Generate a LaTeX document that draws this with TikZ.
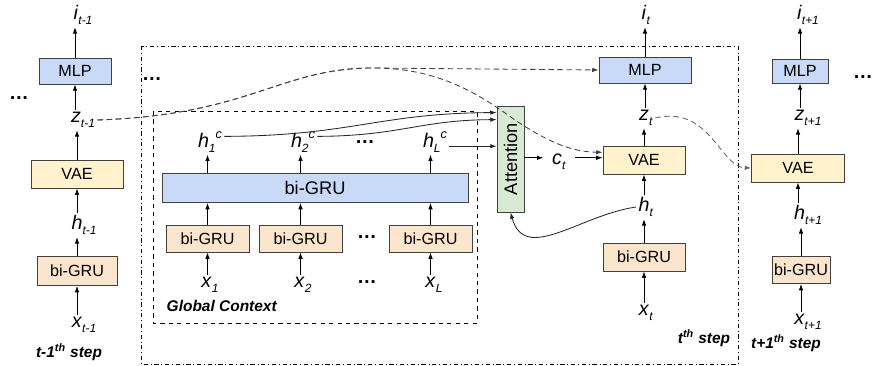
\documentclass[tikz,border=0pt]{standalone}
\usepackage{fontspec}
\setmainfont{Liberation Sans}
\usetikzlibrary{arrows.meta,positioning}

\definecolor{mlpblue}{HTML}{C9DAF8}
\definecolor{vaeyellow}{HTML}{FFF2CC}
\definecolor{gruorange}{HTML}{FCE5CD}
\definecolor{attgreen}{HTML}{D9EAD3}

\newcommand{\subtxt}[1]{{\fontsize{8.5}{9}\selectfont\textit{#1}}}
\newcommand{\lbl}[2]{\textit{#1}\raisebox{-3.5pt}{\subtxt{#2}}}
\newcommand{\lblc}[2]{\textit{#1}\raisebox{-3.5pt}{\subtxt{#2}}\raisebox{6pt}{{\fontsize{9}{10}\selectfont\textit{c}}}}
\newcommand{\steplbl}[1]{\textbf{\textit{#1}}}

\tikzset{
  blk/.style={draw=black!75, line width=0.6pt, inner sep=0pt, font=\fontsize{11.5}{13}\selectfont},
  mlpbox/.style={blk, fill=mlpblue},
  vaebox/.style={blk, fill=vaeyellow},
  grubox/.style={blk, fill=gruorange},
  attbox/.style={blk, fill=attgreen, font=\fontsize{13}{15}\selectfont},
  lab/.style={inner sep=1.5pt, font=\fontsize{14}{16}\selectfont},
  steptxt/.style={font=\fontsize{11}{13}\selectfont},
  ctx/.style={->, black!85, line width=0.6pt},
  skip/.style={->, black!75, line width=0.6pt, dash pattern=on 4pt off 2.5pt},
}

\begin{document}
\begin{tikzpicture}[x=0.025cm, y=-0.025cm, >={Latex[length=4.5pt,width=3.2pt]}, line width=0.6pt]
  \useasboundingbox (0,0) rectangle (875,366);

  % step t-1
  \node[lab] (iA) at (83,15) {\lbl{i}{t-1}};
  \node[mlpbox, minimum width=1.8cm, minimum height=0.65cm] (mlpA) at (75,71) {MLP};
  \node[lab] (zA) at (83,120) {\lbl{z}{t-1}};
  \node[vaebox, minimum width=2.3cm, minimum height=0.7cm] (vaeA) at (77,174) {VAE};
  \node[lab] (hA) at (84,225) {\lbl{h}{t-1}};
  \node[grubox, minimum width=2cm, minimum height=0.725cm] (gruA) at (77,271) {bi-GRU};
  \node[lab] (xA) at (84,325) {\lbl{x}{t-1}};
  \node[steptxt] (stepA) at (69,352) {\steplbl{t-1\textsuperscript{th} step}};
  \node[lab] (dotsA) at (19,98) {\textbf{\dots}};

  \draw[->] (xA.north -| gruA) -- (gruA.south);
  \draw[->] (gruA.north) -- (gruA.north |- hA.south);
  \draw[->] (hA.north -| vaeA) -- (vaeA.south);
  \draw[->] (vaeA.north) -- (vaeA.north |- zA.south);
  \draw[->] (zA.north -| mlpA) -- (mlpA.south);
  \draw[->] (mlpA.north) -- (mlpA.north |- iA.south);

  % step t
  \draw[dash dot, line width=0.5pt] (141,46) rectangle (738,364);
  \node[lab] (dotsB) at (152,79) {\textbf{\dots}};
  \node[steptxt] (stepB) at (704,338) {\steplbl{t\textsuperscript{th} step}};

  \node[lab] (iB) at (646,15) {\lbl{i}{t}};
  \node[mlpbox, minimum width=2.3cm, minimum height=0.65cm] (mlpB) at (645,70) {MLP};
  \node[lab] (zB) at (646,118) {\lbl{z}{t}};
  \node[vaebox, minimum width=2.05cm, minimum height=0.7cm] (vaeB) at (644,160) {VAE};
  \node[lab] (hB) at (646,207) {\lbl{h}{t}};
  \node[grubox, minimum width=2.05cm, minimum height=0.7cm] (gruB) at (644,257) {bi-GRU};
  \node[lab] (xB) at (646,313) {\lbl{x}{t}};

  \draw[->] (xB.north -| gruB) -- (gruB.south);
  \draw[->] (gruB.north) -- (gruB.north |- hB.south);
  \draw[->] (hB.north -| vaeB) -- (vaeB.south);
  \draw[->] (vaeB.north) -- (vaeB.north |- zB.south);
  \draw[->] (zB.north -| mlpB) -- (mlpB.south);
  \draw[->] (mlpB.north) -- (mlpB.north |- iB.south);

  % global context
  \draw[dashed, line width=0.5pt] (153,111) rectangle (477,323);
  \node[blk, fill=mlpblue, font=\fontsize{13}{15}\selectfont, minimum width=7.65cm, minimum height=0.725cm] (ctxGRU) at (315,188) {bi-GRU};
  \node[grubox, minimum width=2.075cm, minimum height=0.675cm] (g1) at (207.5,238.5) {bi-GRU};
  \node[grubox, minimum width=2.075cm, minimum height=0.675cm] (g2) at (300.5,238.5) {bi-GRU};
  \node[grubox, minimum width=2.075cm, minimum height=0.675cm] (gL) at (430.5,238.5) {bi-GRU};
  \node[lab] (x1) at (210,285) {\lbl{x}{1}};
  \node[lab] (x2) at (303,285) {\lbl{x}{2}};
  \node[lab] (xL) at (434,285) {\lbl{x}{L}};
  \node[lab] (dotsX) at (367,282) {\textbf{\dots}};
  \node[lab] (dotsG) at (367,237) {\textbf{\dots}};
  \node[lab] (h1c) at (210,142) {\lblc{h}{1}};
  \node[lab] (h2c) at (303,142) {\lblc{h}{2}};
  \node[lab] (hLc) at (435,142) {\lblc{h}{L}};
  \node[lab] (dotsH) at (365,142) {\textbf{\dots}};
  \node[steptxt] (ctxLabel) at (222,306) {\steplbl{Global Context}};

  \foreach \g/\x in {g1/x1, g2/x2, gL/xL} {
    \draw[->] (\x.north -| \g) -- (\g.south);
    \draw[->] (\g.north) -- (\g.north |- ctxGRU.south);
  }
  \foreach \g/\h in {g1/h1c, g2/h2c, gL/hLc}
    \draw[->] (\g |- ctxGRU.north) -- (\g |- \h.south);

  % attention
  \node[attbox, minimum width=0.675cm, minimum height=2.65cm] (att) at (510.5,159) {\rotatebox{90}{Attention}};
  \node[lab, inner xsep=6pt] (ct) at (559,162) {\lbl{c}{t}};

  \draw[ctx] ([yshift=4pt]h1c.east) .. controls (350,136) and (380,113) .. ([yshift=-5pt]att.north west);
  \draw[ctx] ([yshift=4pt]h2c.east) .. controls (400,136) and (420,120) .. ([yshift=-10pt]att.north west);
  \draw[ctx] ([yshift=-3pt]hLc.east) -- ([yshift=-3pt]hLc.east -| att.west);
  \draw[->] ([yshift=3pt]ct.west -| att.east) -- ([yshift=3pt]ct.west);
  \draw[->] ([yshift=3pt]ct.east) -- ([yshift=3pt]ct.east -| vaeB.west);
  \draw[ctx] (hB.west) .. controls (580,215) and (525,264) .. (att.south);

  % step t+1
  \node[lab] (iC) at (808,15) {\lbl{i}{t+1}};
  \node[mlpbox, minimum width=1.4cm, minimum height=0.6cm] (mlpC) at (800,71) {MLP};
  \node[lab] (zC) at (808,118) {\lbl{z}{t+1}};
  \node[vaebox, minimum width=2.325cm, minimum height=0.7cm] (vaeC) at (798,168) {VAE};
  \node[lab] (hC) at (808,215) {\lbl{h}{t+1}};
  \node[grubox, minimum width=1.45cm, minimum height=0.675cm] (gruC) at (801,270) {bi-GRU};
  \node[lab] (xC) at (808,322) {\lbl{x}{t+1}};
  \node[steptxt] (stepC) at (786,343) {\steplbl{t+1\textsuperscript{th} step}};
  \node[lab] (dotsC) at (863,77) {\textbf{\dots}};

  \draw[->] (xC.north -| gruC) -- (gruC.south);
  \draw[->] (gruC.north) -- (gruC.north |- hC.south);
  \draw[->] (hC.north -| vaeC) -- (vaeC.south);
  \draw[->] (vaeC.north) -- (vaeC.north |- zC.south);
  \draw[->] (zC.north -| mlpC) -- (mlpC.south);
  \draw[->] (mlpC.north) -- (mlpC.north |- iC.south);

  % skip connections
  \draw[skip] (zA.east) .. controls (250,115) and (280,68) .. (373,68) -- (mlpB.west);
  \draw[skip] (zA.east) .. controls (250,115) and (280,68) .. (373,68)
     .. controls (440,68) and (480,95) .. (515,120)
     .. controls (545,140) and (570,152) .. ([yshift=5.5pt]vaeB.west);
  \draw[skip, black!60] (zB.east) .. controls (710,105) and (720,167) .. (vaeC.west);
\end{tikzpicture}
\end{document}
